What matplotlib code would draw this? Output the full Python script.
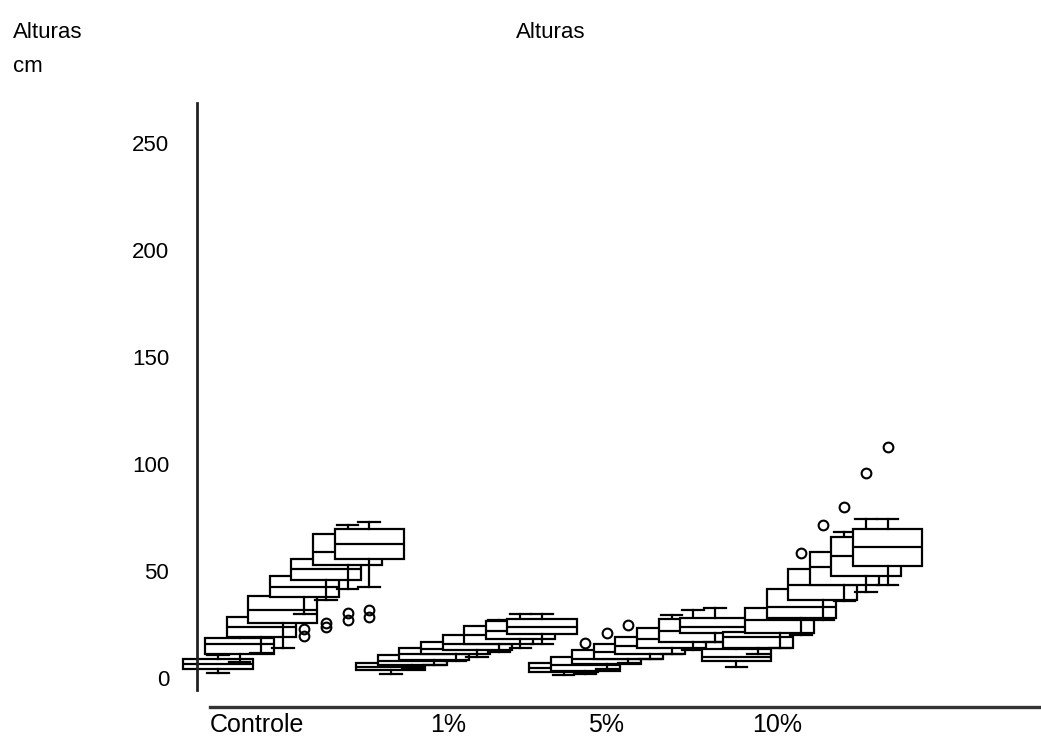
import matplotlib
matplotlib.use("Agg")
import matplotlib.pyplot as plt

plt.rcParams['font.family'] = ['Liberation Sans', 'DejaVu Sans']

grupos = ["Controle", "1%", "5%", "10%"]

# 8 medições por grupo: quartis, mediana, bigodes e pontos fora
controle_q1 = [4.2, 11.2, 19.0, 25.7, 37.8, 45.8, 52.8, 55.6]
controle_med = [6.5, 15.9, 23.8, 32.0, 42.5, 51.0, 59.0, 62.6]
controle_q3 = [8.7, 18.8, 28.5, 38.3, 47.7, 55.6, 67.3, 69.6]
controle_lo = [2.3, 7.5, 11.7, 14.0, 30.0, 36.4, 41.5, 42.5]
controle_hi = [10.7, 22.0, 33.0, 44.0, 55.0, 62.0, 71.5, 73.0]
controle_out = [[], [], [], [], [22.9, 19.6], [25.7, 23.8], [30.4, 27.0], [31.8, 28.5]]

p1_q1 = [3.7, 6.0, 8.5, 11.0, 13.0, 16.0, 18.0, 20.6]
p1_med = [5.0, 8.0, 11.0, 13.5, 16.0, 20.0, 22.0, 24.0]
p1_q3 = [7.0, 10.7, 14.0, 16.8, 20.0, 24.5, 26.6, 27.6]
p1_lo = [1.9, 4.0, 6.0, 8.0, 10.0, 12.0, 14.0, 16.0]
p1_hi = [8.5, 12.5, 16.0, 19.0, 22.5, 27.0, 30.0, 30.0]
p1_out = [[], [], [], [], [], [], [], []]

p5_q1 = [2.8, 3.5, 6.5, 9.0, 11.0, 14.0, 17.0, 21.0]
p5_med = [4.5, 6.0, 9.0, 12.0, 15.0, 18.0, 22.0, 24.0]
p5_q3 = [7.0, 9.8, 13.0, 15.9, 19.2, 23.4, 27.6, 28.0]
p5_lo = [1.5, 1.9, 4.0, 7.0, 9.0, 11.0, 13.0, 17.0]
p5_hi = [8.5, 11.0, 14.5, 18.0, 22.0, 29.4, 32.0, 32.7]
p5_out = [[], [16.4], [21.0], [24.8], [], [], [], []]

p10_q1 = [8.0, 14.0, 21.0, 28.0, 36.4, 43.5, 47.7, 52.3]
p10_med = [9.8, 19.0, 27.0, 33.0, 43.5, 52.0, 57.0, 61.2]
p10_q3 = [13.5, 21.5, 32.7, 41.6, 51.0, 59.0, 66.0, 69.6]
p10_lo = [5.1, 11.0, 14.0, 20.0, 27.0, 36.0, 40.0, 43.5]
p10_hi = [15.0, 25.0, 38.0, 46.0, 58.0, 68.0, 74.3, 74.3]
p10_out = [[], [], [], [58.4], [71.5], [80.0], [95.8], [108.0]]

dados = [
    (controle_q1, controle_med, controle_q3, controle_lo, controle_hi, controle_out),
    (p1_q1, p1_med, p1_q3, p1_lo, p1_hi, p1_out),
    (p5_q1, p5_med, p5_q3, p5_lo, p5_hi, p5_out),
    (p10_q1, p10_med, p10_q3, p10_lo, p10_hi, p10_out),
]

W, H = 1041, 740
fig = plt.figure(figsize=(W / 100, H / 100), dpi=100)
# eixo começa um pouco à esquerda da linha vertical (a 1a caixa passa por cima)
ax = fig.add_axes([175 / W, (H - 707) / H, (1040 - 175) / W, (707 - 103) / H])

lw = 1.6
k = 0
for g, (q1, med, q3, lo, hi, out) in enumerate(dados):
    for i in range(len(q1)):
        st = dict(q1=q1[i], med=med[i], q3=q3[i], whislo=lo[i], whishi=hi[i],
                  fliers=out[i], label="")
        ax.bxp([st], positions=[g * 8 + i + 1], widths=3.2, capwidths=1.0,
               patch_artist=True, manage_ticks=False,
               boxprops=dict(facecolor="white", edgecolor="black", linewidth=lw),
               medianprops=dict(color="black", linewidth=lw),
               whiskerprops=dict(color="black", linewidth=lw),
               capprops=dict(color="black", linewidth=lw),
               flierprops=dict(marker="o", markerfacecolor="none",
                               markeredgecolor="black", markersize=7,
                               markeredgewidth=1.5),
               zorder=2 + k * 0.2)
        k += 1

px = 21.6  # pixels por posição
xmin = 1 - (218 - 175) / px
ax.set_xlim(xmin, xmin + (1040 - 175) / px)
ax.set_ylim(-13.55, 268.7)

for s in ["top", "right"]:
    ax.spines[s].set_visible(False)
ax.spines["bottom"].set_linewidth(2.4)
ax.spines["bottom"].set_color("#333333")
ax.spines["bottom"].set_bounds(1 - 8 / px, xmin + (1040 - 175) / px)
ax.spines["left"].set_linewidth(2.0)
ax.spines["left"].set_color("#222222")
ax.spines["left"].set_position(("data", 1 - 21 / px))
ax.spines["left"].set_bounds(-5.6, 268.7)
ax.spines["left"].set_zorder(20)

ax.set_yticks([0, 50, 100, 150, 200, 250])
ax.tick_params(axis="y", length=0, pad=20, labelsize=16)

rotulo_x = [1 - 8 / px, 1 + 212 / px, 1 + 370 / px, 1 + 534 / px]
ax.set_xticks(rotulo_x, grupos)
ax.tick_params(axis="x", length=0, pad=4, labelsize=18)
for t in ax.get_xticklabels():
    t.set_horizontalalignment("left")

fig.text(13 / W, 1 - 32 / H, "Alturas", va="center", fontsize=16)
fig.text(13 / W, 1 - 66 / H, "cm", va="center", fontsize=16)
fig.text(551 / W, 1 - 32 / H, "Alturas", ha="center", va="center", fontsize=16)

fig.savefig("out.png", dpi=100)
